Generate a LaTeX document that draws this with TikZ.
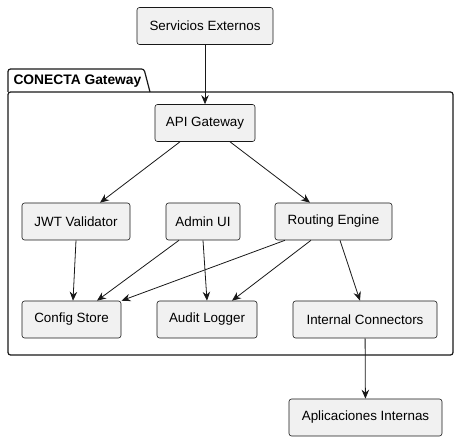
\documentclass[tikz,border=0pt]{standalone}
\usepackage{fontspec}
\setmainfont{Liberation Sans}
\usetikzlibrary{arrows.meta}
\definecolor{boxfill}{HTML}{f1f1f1}
\definecolor{line1}{HTML}{181818}
\begin{document}
\begin{tikzpicture}[x=1pt, y=-1pt, align=center,
    comp/.style={draw=line1, fill=boxfill, rounded corners=2.5pt, line width=0.6pt,
      minimum height=37pt, inner sep=0pt, font=\fontsize{13.4}{15}\selectfont},
    link/.style={draw=line1, line width=0.8pt, -{Stealth[length=9pt,width=7.5pt,inset=3pt]}}]
\useasboundingbox (0,0) rectangle (459,441);
% package frame
\draw[line1, line width=1.2pt, rounded corners=2.5pt] (8,92) -- (8,69) -- (144,69) -- (150,92);
\draw[line1, line width=1.2pt, rounded corners=2.5pt] (8,92) rectangle (453,355);
\node[anchor=west, font=\bfseries\fontsize{13.8}{15}\selectfont] (pkg) at (10,81) {CONECTA Gateway};
% components
\node[comp, minimum width=136pt] (ext) at (205,26) {Servicios Externos};
\node[comp, minimum width=100pt] (api) at (205,123) {API Gateway};
\node[comp, minimum width=108pt] (jwt) at (76,221.5) {JWT Validator};
\node[comp, minimum width=74pt] (admin) at (203,221.5) {Admin UI};
\node[comp, minimum width=117pt] (route) at (333.5,221.5) {Routing Engine};
\node[comp, minimum width=99pt] (cfg) at (71.5,319.5) {Config Store};
\node[comp, minimum width=100pt] (audit) at (207,319.5) {Audit Logger};
\node[comp, minimum width=144pt] (intc) at (365,319.5) {Internal Connectors};
\node[comp, minimum width=153pt] (apps) at (365.5,417.5) {Aplicaciones Internas};
% connectors
\draw[link] (ext) -- (api);
\draw[link] ([xshift=-25]api.south) -- ([xshift=24]jwt.north);
\draw[link] ([xshift=25]api.south) -- ([xshift=-23.5]route.north);
\draw[link] (jwt.south) -- ([xshift=1.5]cfg.north);
\draw[link] ([xshift=-24]admin.south) -- ([xshift=25.5]cfg.north);
\draw[link] (admin.south) -- (audit.north);
\draw[link] ([xshift=-48.5]route.south) -- ([xshift=50]cfg.north);
\draw[link] ([xshift=-22.5]route.south) -- ([xshift=25]audit.north);
\draw[link] ([xshift=6.5]route.south) -- ([xshift=-5]intc.north);
\draw[link] (intc) -- (apps);
\end{tikzpicture}
\end{document}
